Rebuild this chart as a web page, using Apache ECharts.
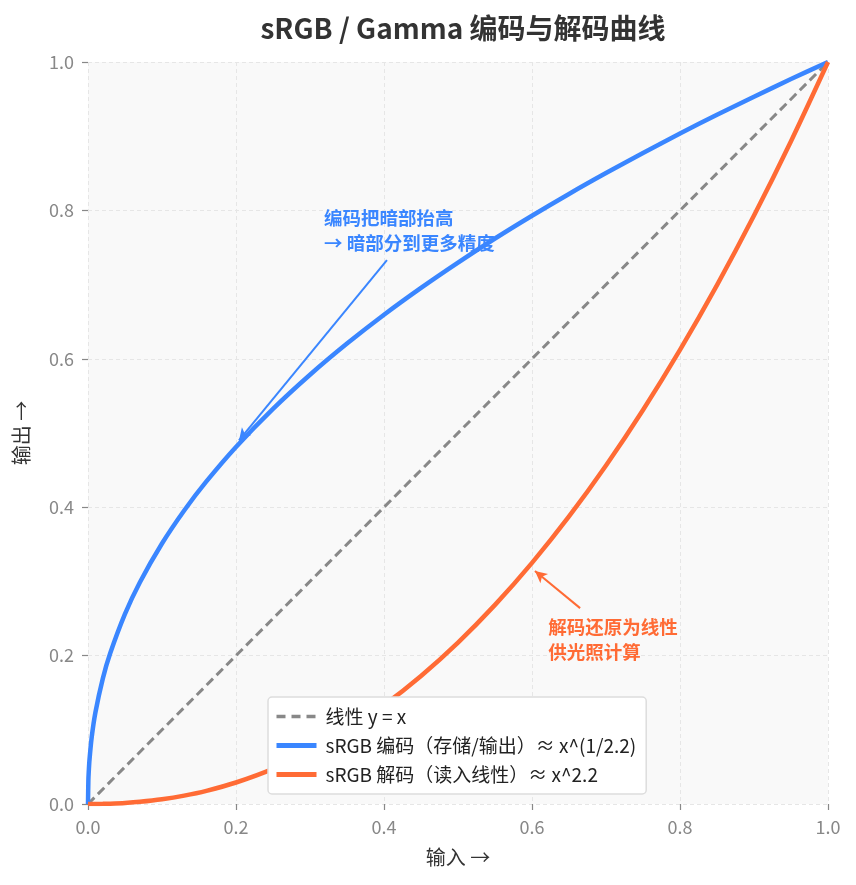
<!DOCTYPE html>
<html>
<head>
<meta charset="utf-8">
<script src="https://cdn.jsdelivr.net/npm/echarts@6/dist/echarts.min.js"></script>
<style>html,body{margin:0;padding:0;background:#fff}#c{width:856px;height:885px}</style>
</head>
<body>
<div id="c"></div>
<script>
var xs = [0, 0.0005, 0.001, 0.002, 0.005, 0.01, 0.02, 0.03, 0.05, 0.07, 0.1, 0.13, 0.16, 0.2, 0.25, 0.3, 0.35, 0.4, 0.45, 0.5, 0.55, 0.6, 0.65, 0.7, 0.75, 0.8, 0.85, 0.9, 0.95, 1.0];
var encodeY = [0, 0.0316, 0.0433, 0.0593, 0.0900, 0.1233, 0.1690, 0.2031, 0.2562, 0.2986, 0.3511, 0.3956, 0.4347, 0.4812, 0.5325, 0.5785, 0.6205, 0.6594, 0.6956, 0.7297, 0.7621, 0.7928, 0.8222, 0.8503, 0.8774, 0.9036, 0.9288, 0.9532, 0.9770, 1.0];
var decodeY = [0, 0, 0, 0, 0, 0.00004, 0.00018, 0.00045, 0.00137, 0.00288, 0.00631, 0.01124, 0.01774, 0.02899, 0.04737, 0.07074, 0.09932, 0.1332, 0.1726, 0.2176, 0.2684, 0.3250, 0.3876, 0.4563, 0.5311, 0.6121, 0.6994, 0.7931, 0.8933, 1.0];
var linearX = [0, 1];
var linearY = [0, 1];
var tickLabels = ['0.0', '0.2', '0.4', '0.6', '0.8', '1.0'];
var seriesNames = ['线性 y = x', 'sRGB 编码（存储/输出）≈ x^(1/2.2)', 'sRGB 解码（读入线性）≈ x^2.2'];
var titleText = 'sRGB / Gamma 编码与解码曲线';
var noteBlue = '编码把暗部抬高\n→ 暗部分到更多精度';
var noteOrange = '解码还原为线性\n供光照计算';

function pairs(a, b) { return a.map(function (v, i) { return [v, b[i]]; }); }

var FONT = '"Noto Sans CJK SC", "Noto Sans", sans-serif';
var BLUE = '#3a86ff', ORANGE = '#ff6b35', GRAY = '#888888';

var chart = echarts.init(document.getElementById('c'), null, { renderer: 'canvas' });

function axisCommon(name, gap, rot) {
  return {
    type: 'value', min: 0, max: 1, interval: 0.2,
    name: name, nameLocation: 'middle', nameGap: gap, nameRotate: rot,
    nameTextStyle: { color: '#333', fontSize: 20, fontFamily: FONT },
    axisLine: { show: false },
    axisTick: { show: true, length: 6, lineStyle: { color: GRAY, width: 1.2 } },
    axisLabel: { color: GRAY, fontSize: 18, fontFamily: FONT, margin: 14,
      formatter: function (v) { return tickLabels[Math.round(v / 0.2)]; } },
    splitLine: { show: true, lineStyle: { color: '#e6e6e6', type: [4, 3], width: 1 } }
  };
}

var option = {
  animation: false,
  backgroundColor: '#fff',
  textStyle: { fontFamily: FONT },
  title: { text: titleText, left: 458, textAlign: 'center', top: 9,
    textStyle: { fontSize: 28, fontWeight: 'bold', color: '#333', fontFamily: FONT } },
  grid: { left: 88, right: 28, top: 62, bottom: 81, show: true, backgroundColor: '#f9f9f9', borderWidth: 0 },
  xAxis: axisCommon('输入 →', 43, 0),
  yAxis: axisCommon('输出 →', 57, 90),
  legend: {
    orient: 'vertical', left: 268, top: 697,
    backgroundColor: '#ffffff', borderColor: '#dddddd', borderWidth: 1.5, borderRadius: 4,
    padding: [10, 10, 10, 6],
    itemWidth: 40, itemHeight: 14, itemGap: 10,
    itemStyle: { color: 'rgba(0,0,0,0)', borderWidth: 0, opacity: 0 },
    textStyle: { fontSize: 19, color: '#222', fontFamily: FONT, padding: [0, 0, 0, 4] },
    data: [
      { name: seriesNames[0], lineStyle: { width: 3.5, type: [9, 6], color: GRAY } },
      { name: seriesNames[1], lineStyle: { width: 5, color: BLUE } },
      { name: seriesNames[2], lineStyle: { width: 5, color: ORANGE } }
    ]
  },
  series: [
    { name: seriesNames[0], type: 'line', data: pairs(linearX, linearY), symbol: 'none',
      lineStyle: { color: GRAY, width: 3, type: [9, 5] }, itemStyle: { color: GRAY }, z: 2 },
    { name: seriesNames[1], type: 'line', data: pairs(xs, encodeY), symbol: 'none', smooth: 0.3,
      lineStyle: { color: BLUE, width: 4.5 }, itemStyle: { color: BLUE }, z: 3,
      markLine: { silent: true, symbol: ['none', 'arrow'], symbolSize: [9, 12], label: { show: false },
        lineStyle: { color: BLUE, width: 2, type: 'solid' },
        data: [[{ coord: [0.404, 0.733] }, { coord: [0.204, 0.49] }]] } },
    { name: seriesNames[2], type: 'line', data: pairs(xs, decodeY), symbol: 'none', smooth: 0.3,
      lineStyle: { color: ORANGE, width: 4.5 }, itemStyle: { color: ORANGE }, z: 3,
      markLine: { silent: true, symbol: ['none', 'arrow'], symbolSize: [9, 12], label: { show: false },
        lineStyle: { color: ORANGE, width: 2, type: 'solid' },
        data: [[{ coord: [0.665, 0.264] }, { coord: [0.604, 0.314] }]] } }
  ]
};
chart.setOption(option);

var pb = chart.convertToPixel({ gridIndex: 0 }, [0.319, 0.806]);
var po = chart.convertToPixel({ gridIndex: 0 }, [0.622, 0.256]);
chart.setOption({
  graphic: [
    { type: 'text', x: pb[0], y: pb[1], z: 10,
      style: { text: noteBlue, fill: BLUE, fontSize: 18.5, fontWeight: 'bold', fontFamily: FONT, lineHeight: 25, verticalAlign: 'top' } },
    { type: 'text', x: po[0], y: po[1], z: 10,
      style: { text: noteOrange, fill: ORANGE, fontSize: 18.5, fontWeight: 'bold', fontFamily: FONT, lineHeight: 25, verticalAlign: 'top' } }
  ]
});
</script>
</body>
</html>
